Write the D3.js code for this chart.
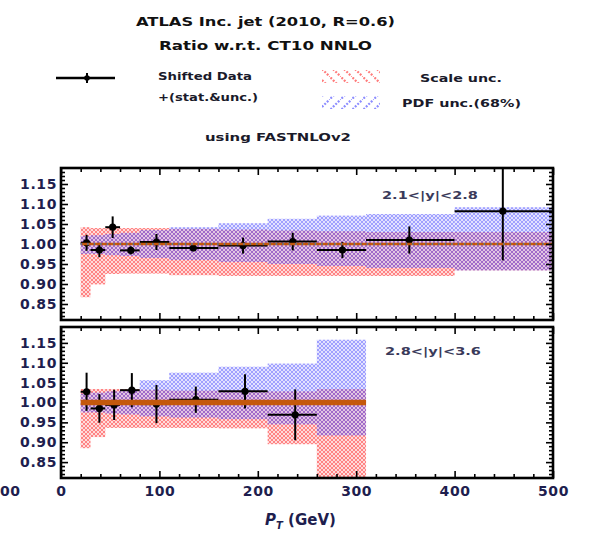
<!DOCTYPE html>
<html><head><meta charset="utf-8">
<script src="https://cdn.jsdelivr.net/npm/d3@7"></script>
<style>
body{margin:0;background:#fff}
text{font-family:"DejaVu Sans",sans-serif;font-weight:bold}
</style>
</head><body>
<svg id="c" width="606" height="534"></svg>
<script>
// ---------- data ----------
const binEdges = [20,30,45,60,80,110,160,210,260,310,400,500];
// panel 1 : 2.1<|y|<2.8
const upPt    = [26, 39, 52.5, 71, 97, 134.5, 185, 235.5, 286, 354, 449];
const upRatio = [1.003, 0.985, 1.042, 0.984, 1.005, 0.990, 0.996, 1.006, 0.985, 1.010, 1.082];
const upErr   = [0.020, 0.018, 0.027, 0.010, 0.020, 0.008, 0.020, 0.022, 0.020, 0.034, 0.123];
const upScaleLo = [0.867, 0.899, 0.925, 0.926, 0.926, 0.922, 0.920, 0.920, 0.920, 0.920, 0.934];
const upScaleHi = [1.042, 1.040, 1.040, 1.040, 1.040, 1.038, 1.036, 1.034, 1.032, 1.030, 1.030];
const upPdfLo   = [0.975, 0.975, 0.972, 0.970, 0.965, 0.960, 0.955, 0.950, 0.945, 0.940, 0.934];
const upPdfHi   = [1.020, 1.022, 1.025, 1.028, 1.035, 1.042, 1.052, 1.063, 1.071, 1.075, 1.092];
// panel 2 : 2.8<|y|<3.6
const loPt    = [26, 39, 54, 72, 97, 137, 187, 238];
const loRatio = [1.027, 0.985, 0.994, 1.031, 0.996, 1.007, 1.028, 0.969];
const loErr   = [0.048, 0.036, 0.038, 0.043, 0.048, 0.033, 0.043, 0.064];
const loScaleLo = [0.885, 0.913, 0.936, 0.936, 0.936, 0.936, 0.935, 0.895, 0.800];
const loScaleHi = [1.034, 1.034, 1.034, 1.034, 1.032, 1.030, 1.030, 1.028, 1.034];
const loPdfLo   = [0.975, 0.975, 0.972, 0.970, 0.965, 0.962, 0.958, 0.945, 0.917];
const loPdfHi   = [1.022, 1.025, 1.028, 1.030, 1.056, 1.075, 1.090, 1.098, 1.158];
// ticks / labels
const yMajor = [0.85, 0.90, 0.95, 1.00, 1.05, 1.10, 1.15];
const xMajor = [0, 100, 200, 300, 400, 500];
const titleLines = ["ATLAS Inc. jet (2010, R=0.6)", "Ratio w.r.t. CT10 NNLO"];
const panelLabels = ["2.1<|y|<2.8", "2.8<|y|<3.6"];

// ---------- setup ----------
const svg = d3.select("#c");
const txtCol = "#1e1e4e";
const defs = svg.append("defs");
function hatch(id, col, bg) {
  const p = defs.append("pattern").attr("id", id).attr("patternUnits","userSpaceOnUse")
    .attr("width",4).attr("height",4);
  p.append("rect").attr("width",4).attr("height",4).attr("fill",bg);
  p.append("path").attr("d","M0,0L4,4M4,0L0,4").attr("stroke",col).attr("stroke-width",1);
}
hatch("redH", "rgba(255,60,60,0.55)", "rgba(255,110,110,0.25)");
hatch("bluH", "rgba(80,80,255,0.45)", "rgba(110,110,255,0.20)");
function lineHatch(id, col, dir) {
  const p = defs.append("pattern").attr("id", id).attr("patternUnits","userSpaceOnUse")
    .attr("width",11).attr("height",11);
  p.append("path").attr("d", dir > 0 ? "M-2,-2L13,13" : "M-2,13L13,-2")
    .attr("stroke",col).attr("stroke-width",2.2).attr("stroke-dasharray","2,1.5");
}
lineHatch("redL", "rgba(255,90,90,0.8)", 1);
lineHatch("bluL", "rgba(110,110,255,0.8)", -1);

const x = d3.scaleLinear().domain([0,500]).range([61,553]);
const panels = [
  {top:168, bot:320, pt:upPt, r:upRatio, e:upErr, sLo:upScaleLo, sHi:upScaleHi, pLo:upPdfLo, pHi:upPdfHi, label:panelLabels[0], lx:382, ly:199, lineW:2.5, labels:false},
  {top:327, bot:478, pt:loPt, r:loRatio, e:loErr, sLo:loScaleLo, sHi:loScaleHi, pLo:loPdfLo, pHi:loPdfHi, label:panelLabels[1], lx:385, ly:355, lineW:5.5, labels:true}
];

panels.forEach((P, pi) => {
  const y = d3.scaleLinear().domain([0.81,1.19]).range([P.bot, P.top]);
  const g = svg.append("g");
  const clipId = "clip"+pi;
  defs.append("clipPath").attr("id",clipId).append("rect")
    .attr("x",x(0)).attr("y",P.top).attr("width",x(500)-x(0)).attr("height",P.bot-P.top);
  const cg = g.append("g").attr("clip-path",`url(#${clipId})`);
  const nb = P.sLo.length;
  const bins = d3.range(nb).map(i => ({x0:binEdges[i], x1:binEdges[i+1], i}));
  // scale band
  cg.selectAll(".sb").data(bins).join("rect")
    .attr("x",d=>x(d.x0)).attr("width",d=>x(d.x1)-x(d.x0))
    .attr("y",d=>y(P.sHi[d.i])).attr("height",d=>y(P.sLo[d.i])-y(P.sHi[d.i]))
    .attr("fill","url(#redH)");
  // pdf band
  cg.selectAll(".pb").data(bins).join("rect")
    .attr("x",d=>x(d.x0)).attr("width",d=>x(d.x1)-x(d.x0))
    .attr("y",d=>y(P.pHi[d.i])).attr("height",d=>y(P.pLo[d.i])-y(P.pHi[d.i]))
    .attr("fill","url(#bluH)");
  // reference line
  const xEnd = binEdges[nb];
  g.append("line").attr("x1",x(20)).attr("x2",x(xEnd)).attr("y1",y(1)).attr("y2",y(1))
    .attr("stroke","#c4580c").attr("stroke-width",P.lineW);
  if (pi === 0) {
    g.append("line").attr("x1",x(20)).attr("x2",x(xEnd)).attr("y1",y(1)).attr("y2",y(1))
      .attr("stroke","#3a7ab8").attr("stroke-width",1.5).attr("stroke-dasharray","1.5,5");
  }
  // data points
  const pts = P.pt.map((v,i)=>({pt:v, r:P.r[i], e:P.e[i], x0:binEdges[i], x1:binEdges[i+1]}));
  const dg = cg.append("g").attr("stroke","#000").attr("stroke-width",2);
  dg.selectAll(".h").data(pts).join("line")
    .attr("x1",d=>x(d.x0)).attr("x2",d=>x(d.x1)).attr("y1",d=>y(d.r)).attr("y2",d=>y(d.r));
  dg.selectAll(".v").data(pts).join("line")
    .attr("x1",d=>x(d.pt)).attr("x2",d=>x(d.pt)).attr("y1",d=>y(d.r+d.e)).attr("y2",d=>y(d.r-d.e));
  cg.selectAll(".m").data(pts).join("circle")
    .attr("cx",d=>x(d.pt)).attr("cy",d=>y(d.r)).attr("r",3.6).attr("fill","#000");
  // axes (ticks inward)
  const yMinor = d3.range(82,119).map(v=>v/100).filter(v=>!yMajor.some(m=>Math.abs(m-v)<1e-6));
  const xMinor = d3.range(0,501,20).filter(v=>v%100!==0);
  const ax = (gen) => g.append("g").call(gen).call(s=>s.select(".domain").remove());
  const yl = ax(d3.axisLeft(y).tickValues(yMajor).tickSize(-7).tickPadding(4).tickFormat(d3.format(".2f")))
    .attr("transform",`translate(${x(0)},0)`);
  yl.selectAll("text").attr("fill",txtCol).style("font-size","14px").style("font-family","DejaVu Sans").style("font-weight","bold").attr("letter-spacing","0.6");
  ax(d3.axisLeft(y).tickValues(yMinor).tickSize(-4).tickFormat("")).attr("transform",`translate(${x(0)},0)`);
  ax(d3.axisRight(y).tickValues(yMajor).tickSize(-7).tickFormat("")).attr("transform",`translate(${x(500)},0)`);
  ax(d3.axisRight(y).tickValues(yMinor).tickSize(-4).tickFormat("")).attr("transform",`translate(${x(500)},0)`);
  ax(d3.axisTop(x).tickValues(xMajor).tickSize(-7).tickFormat("")).attr("transform",`translate(0,${P.top})`);
  ax(d3.axisTop(x).tickValues(xMinor).tickSize(-4).tickFormat("")).attr("transform",`translate(0,${P.top})`);
  const xb = ax(d3.axisBottom(x).tickValues(xMajor).tickSize(-7).tickPadding(8).tickFormat(P.labels ? d3.format("d") : ""))
    .attr("transform",`translate(0,${P.bot})`);
  xb.selectAll("text").attr("fill",txtCol).style("font-size","14px").style("font-family","DejaVu Sans").style("font-weight","bold").attr("letter-spacing","0.6");
  ax(d3.axisBottom(x).tickValues(xMinor).tickSize(-4).tickFormat("")).attr("transform",`translate(0,${P.bot})`);
  g.selectAll(".tick line").attr("stroke","#000").attr("stroke-width",1.6);
  // frame
  g.append("rect").attr("x",x(0)).attr("y",P.top).attr("width",x(500)-x(0)).attr("height",P.bot-P.top)
    .attr("fill","none").attr("stroke","#000").attr("stroke-width",2.6);
  // label
  g.append("text").attr("x",P.lx).attr("y",P.ly).text(P.label).attr("fill","#3a3a5a")
    .style("font-size","11px").attr("textLength",96).attr("lengthAdjust","spacingAndGlyphs");
});

// remnant label of a neighbouring panel at the left edge
svg.append("text").attr("x",0).attr("y",496).attr("fill",txtCol)
  .style("font-size","14px").attr("letter-spacing","0.6").text("00");

// x-axis title
const xt = svg.append("text").attr("x",265).attr("y",525).attr("fill",txtCol).style("font-size","15px");
xt.append("tspan").text("P").style("font-style","italic");
xt.append("tspan").text("T").attr("dy",4).style("font-size","10px").style("font-style","italic");
xt.append("tspan").text(" (GeV)").attr("dy",-4);

// titles
svg.append("text").attr("x",136).attr("y",26).text(titleLines[0]).attr("fill","#111")
  .style("font-size","13px").attr("textLength",259).attr("lengthAdjust","spacingAndGlyphs");
svg.append("text").attr("x",159).attr("y",50).text(titleLines[1]).attr("fill","#111")
  .style("font-size","13px").attr("textLength",213).attr("lengthAdjust","spacingAndGlyphs");

// legend
const lg = svg.append("g");
lg.append("line").attr("x1",56).attr("x2",115).attr("y1",78).attr("y2",78).attr("stroke","#000").attr("stroke-width",2.5);
lg.append("line").attr("x1",87).attr("x2",87).attr("y1",73).attr("y2",83).attr("stroke","#000").attr("stroke-width",2);
lg.append("circle").attr("cx",87).attr("cy",78).attr("r",2.8).attr("fill","#000");
const legTxt = [
  {t:"Shifted Data", x:158, y:80, w:94},
  {t:"+(stat.&unc.)", x:158, y:101, w:100},
  {t:"Scale unc.", x:420, y:82, w:82},
  {t:"PDF unc.(68%)", x:402, y:107, w:119},
  {t:"using FASTNLOv2", x:205, y:141, w:146}
];
legTxt.forEach(d => lg.append("text").attr("x",d.x).attr("y",d.y).text(d.t).attr("fill","#1a1a2a")
  .style("font-size","10px").attr("textLength",d.w).attr("lengthAdjust","spacingAndGlyphs"));
lg.append("rect").attr("x",322).attr("y",70).attr("width",58).attr("height",13).attr("fill","url(#redL)");
lg.append("rect").attr("x",322).attr("y",96).attr("width",58).attr("height",13).attr("fill","url(#bluL)");
</script>
</body></html>
